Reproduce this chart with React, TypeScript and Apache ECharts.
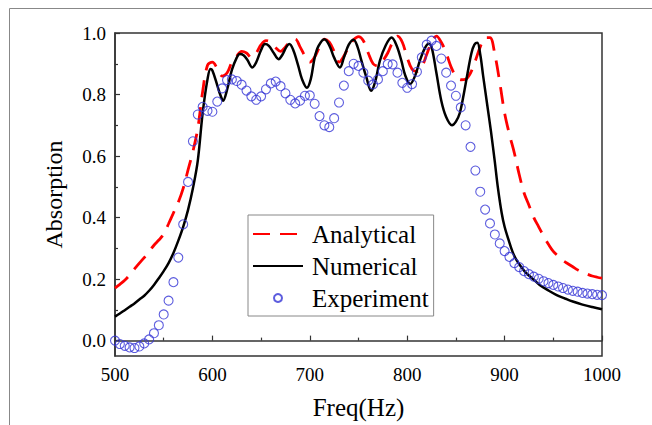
import React, { useEffect, useRef } from "react";
import * as echarts from "echarts";

const freq5 = [
  500, 505, 510, 515, 520, 525, 530, 535, 540, 545, 550, 555, 560, 565, 570, 575, 580, 585, 590, 595,
  600, 605, 610, 615, 620, 625, 630, 635, 640, 645, 650, 655, 660, 665, 670, 675, 680, 685, 690, 695,
  700, 705, 710, 715, 720, 725, 730, 735, 740, 745, 750, 755, 760, 765, 770, 775, 780, 785, 790, 795,
  800, 805, 810, 815, 820, 825, 830, 835, 840, 845, 850, 855, 860, 865, 870, 875, 880, 885, 890, 895,
  900, 905, 910, 915, 920, 925, 930, 935, 940, 945, 950, 955, 960, 965, 970, 975, 980, 985, 990, 995,
  1000,
];

const experimentValue = [
  0.0, -0.011, -0.017, -0.022, -0.024, -0.019, -0.009, 0.004, 0.024, 0.05, 0.085, 0.13, 0.19, 0.27, 0.378, 0.516, 0.648, 0.735, 0.76, 0.747,
  0.744, 0.777, 0.82, 0.847, 0.849, 0.844, 0.832, 0.813, 0.794, 0.783, 0.794, 0.817, 0.836, 0.842, 0.827, 0.804, 0.783, 0.771, 0.78, 0.796,
  0.797, 0.77, 0.73, 0.70, 0.694, 0.723, 0.774, 0.829, 0.876, 0.90, 0.893, 0.871, 0.845, 0.833, 0.849, 0.876, 0.899, 0.898, 0.871, 0.838,
  0.822, 0.834, 0.874, 0.921, 0.962, 0.975, 0.958, 0.917, 0.871, 0.829, 0.796, 0.758, 0.70, 0.63, 0.553, 0.484, 0.426, 0.381, 0.345, 0.316,
  0.291, 0.272, 0.252, 0.239, 0.226, 0.216, 0.208, 0.201, 0.193, 0.187, 0.181, 0.176, 0.171, 0.166, 0.162, 0.159, 0.155, 0.153, 0.151, 0.149,
  0.148,
];

const analyticalValue = [
  0.171, 0.183, 0.196, 0.213, 0.233, 0.252, 0.27, 0.29, 0.31, 0.327, 0.346, 0.38, 0.415, 0.45, 0.495, 0.555, 0.615, 0.69, 0.81, 0.895,
  0.905, 0.885, 0.86, 0.87, 0.905, 0.925, 0.94, 0.935, 0.92, 0.935, 0.962, 0.975, 0.97, 0.952, 0.94, 0.955, 0.975, 0.98, 0.955, 0.925,
  0.905, 0.922, 0.955, 0.98, 0.97, 0.94, 0.905, 0.925, 0.955, 0.978, 0.988, 0.975, 0.935, 0.9, 0.893, 0.91, 0.935, 0.97, 0.99, 0.97,
  0.92, 0.882, 0.875, 0.89, 0.93, 0.97, 0.99, 0.97, 0.935, 0.89, 0.86, 0.848, 0.85, 0.87, 0.91, 0.955, 0.985, 0.985, 0.93, 0.84,
  0.74, 0.67, 0.61, 0.54, 0.48, 0.44, 0.4, 0.37, 0.34, 0.313, 0.29, 0.275, 0.26, 0.25, 0.24, 0.23, 0.222, 0.216, 0.21, 0.206,
  0.203,
];

const numericalFreq = [
  500, 505, 510, 515, 520, 525, 530, 535, 540, 545, 550, 555, 560, 565, 570, 575, 580, 585, 590, 595,
  598, 600, 605, 608, 611, 615, 620, 625, 628, 632, 636, 641, 645, 650, 654, 658, 663, 668, 672, 676,
  679, 683, 688, 692, 697, 701, 705, 709, 715, 720, 725, 731, 735, 740, 745, 749, 753, 758, 763, 767,
  772, 778, 784, 789, 794, 798, 803, 808, 813, 818, 822, 825, 830, 835, 840, 846, 850, 854, 858, 862,
  866, 869, 872, 875, 878, 882, 886, 890, 893, 897, 900, 904, 908, 912, 917, 922, 930, 936, 945, 953,
  962, 970, 980, 990, 1000,
];

const numericalValue = [
  0.078, 0.088, 0.099, 0.11, 0.121, 0.134, 0.146, 0.162, 0.181, 0.203, 0.226, 0.252, 0.285, 0.325, 0.37, 0.425, 0.495, 0.585, 0.74, 0.85,
  0.883, 0.878, 0.83, 0.8, 0.78, 0.815, 0.88, 0.92, 0.932, 0.928, 0.912, 0.888, 0.905, 0.945, 0.964, 0.958, 0.935, 0.915, 0.93, 0.955,
  0.964, 0.945, 0.895, 0.85, 0.822, 0.85, 0.92, 0.958, 0.98, 0.96, 0.92, 0.888, 0.92, 0.962, 0.978, 0.955, 0.91, 0.857, 0.812, 0.84,
  0.91, 0.96, 0.985, 0.96, 0.91, 0.862, 0.834, 0.86, 0.91, 0.95, 0.965, 0.955, 0.87, 0.78, 0.727, 0.7, 0.712, 0.74, 0.8, 0.87,
  0.935, 0.962, 0.968, 0.93, 0.86, 0.77, 0.68, 0.58, 0.5, 0.415, 0.37, 0.328, 0.29, 0.263, 0.24, 0.22, 0.198, 0.181, 0.163, 0.149,
  0.137, 0.127, 0.117, 0.109, 0.102,
];

const yMajorTicks = [0, 0.2, 0.4, 0.6, 0.8, 1.0];
const yMinorTicks = [0.1, 0.3, 0.5, 0.7, 0.9];

const FONT = "'Liberation Serif', 'Times New Roman', Times, serif";

export default function App() {
  const ref = useRef<HTMLDivElement>(null);

  useEffect(() => {
    if (!ref.current) return;
    const chart = echarts.init(ref.current, undefined, { renderer: "svg" });

    const pair = (xs: number[], ys: number[]) => xs.map((x, i) => [x, ys[i]]);

    chart.setOption({
      animation: false,
      backgroundColor: "#fff",
      textStyle: { fontFamily: FONT },
      graphic: {
        elements: [
          {
            type: "rect",
            silent: true,
            shape: { x: 9.5, y: 8.5, width: 700, height: 500 },
            style: { fill: "none", stroke: "#888", lineWidth: 1 },
            z: -10,
          },
        ],
      },
      grid: {
        left: 115,
        right: 50,
        top: 33,
        bottom: 69,
        show: true,
        borderColor: "#333",
        borderWidth: 1.5,
        backgroundColor: "transparent",
      },
      legend: {
        orient: "vertical",
        left: 248,
        top: 215,
        backgroundColor: "#fff",
        borderColor: "#888",
        borderWidth: 1,
        borderRadius: 0,
        padding: [6, 5, 5, 4],
        itemGap: 6,
        itemWidth: 50,
        itemHeight: 8,
        textStyle: { fontFamily: FONT, fontSize: 25, color: "#000", lineHeight: 26, padding: [0, 0, 0, 4] },
        data: [
          { name: "Analytical", itemStyle: { opacity: 0 } },
          { name: "Numerical", itemStyle: { opacity: 0 } },
          { name: "Experiment" },
        ],
      },
      xAxis: {
        type: "value",
        min: 500,
        max: 1000,
        interval: 100,
        name: "Freq(Hz)",
        nameLocation: "middle",
        nameGap: 39,
        nameTextStyle: { fontFamily: FONT, fontSize: 25, color: "#000" },
        axisLine: { show: true, lineStyle: { color: "#333", width: 1.5 } },
        axisTick: { show: true, inside: true, length: 5, lineStyle: { color: "#333", width: 1.2 } },
        minorTick: { show: true, splitNumber: 2, length: 3, lineStyle: { color: "#333", width: 1.2 } },
        splitLine: { show: false },
        axisLabel: {
          fontFamily: FONT,
          fontSize: 19,
          color: "#000",
          margin: 9,
          formatter: (v: number) => String(v),
        },
      },
      yAxis: [
        {
          type: "value",
          min: -0.05,
          max: 1.0,
          name: "Absorption",
          nameLocation: "middle",
          nameGap: 49,
          nameTextStyle: { fontFamily: FONT, fontSize: 24, color: "#000" },
          axisLine: { show: true, lineStyle: { color: "#333", width: 1.5 } },
          axisTick: {
            show: true,
            inside: true,
            length: 5,
            customValues: yMajorTicks,
            lineStyle: { color: "#333", width: 1.2 },
          },
          splitLine: { show: false },
          axisLabel: {
            fontFamily: FONT,
            fontSize: 19,
            color: "#000",
            margin: 9,
            customValues: yMajorTicks,
            formatter: (v: number) => v.toFixed(1),
          },
        },
        {
          type: "value",
          min: -0.05,
          max: 1.0,
          position: "left",
          axisLine: { show: false },
          axisTick: {
            show: true,
            inside: true,
            length: 3,
            customValues: yMinorTicks,
            lineStyle: { color: "#333", width: 1.2 },
          },
          splitLine: { show: false },
          axisLabel: { show: false },
        },
      ],
      series: [
        {
          name: "Analytical",
          type: "line",
          data: pair(freq5, analyticalValue),
          smooth: 0.35,
          symbol: "none",
          showSymbol: false,
          lineStyle: { color: "#ff0000", width: 2.8, type: [17, 10] },
          itemStyle: { color: "#ff0000" },
          z: 2,
        },
        {
          name: "Numerical",
          type: "line",
          data: pair(numericalFreq, numericalValue),
          smooth: 0.35,
          symbol: "none",
          showSymbol: false,
          lineStyle: { color: "#000", width: 2.5 },
          itemStyle: { color: "#000" },
          z: 3,
        },
        {
          name: "Experiment",
          type: "scatter",
          data: pair(freq5, experimentValue),
          symbol: "circle",
          symbolSize: 9,
          itemStyle: { color: "rgba(255,255,255,0)", borderColor: "#3535d6", borderWidth: 1.1 },
          z: 4,
        },
      ],
    });

    return () => chart.dispose();
  }, []);

  return (
    <div
      ref={ref}
      style={{ position: "absolute", left: 0, top: 0, width: 652, height: 425 }}
    />
  );
}
